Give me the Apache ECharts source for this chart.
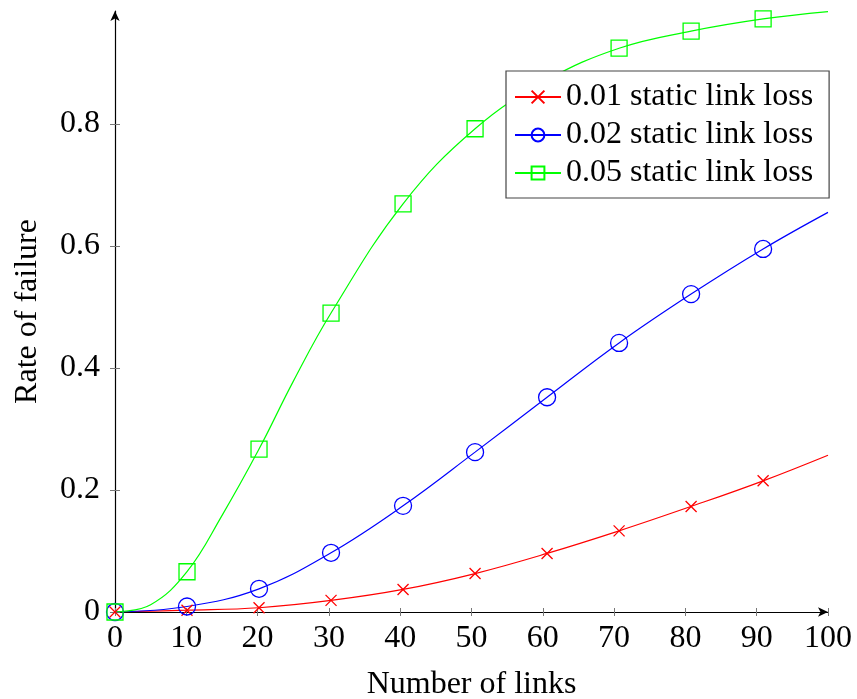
<!DOCTYPE html>
<html><head><meta charset="utf-8">
<script src="https://cdn.jsdelivr.net/npm/echarts@6/dist/echarts.min.js"></script>
<style>html,body{margin:0;padding:0;background:#fff}#c{width:857px;height:699px}</style>
</head><body><div id="c"></div>
<script>
// marker positions (every 10th of 100 samples) plus the curve end at 100
const xs = [0, 10.1, 20.2, 30.3, 40.4, 50.5, 60.6, 70.7, 80.8, 90.9, 100];
const loss001 = [0, 0.003, 0.007, 0.019, 0.037, 0.063, 0.096, 0.133, 0.173, 0.215, 0.257];
const loss002 = [0, 0.009, 0.038, 0.097, 0.174, 0.262, 0.352, 0.441, 0.521, 0.595, 0.655];
const loss005 = [0, 0.066, 0.267, 0.490, 0.669, 0.792, 0.872, 0.924, 0.952, 0.972, 0.984];
// extra curve readings (no marker) for the steep 0.05 curve
const xsExtra005 = [5, 15, 25];
const loss005Extra = [0.012, 0.158, 0.378];
const names = ['0.01 static link loss', '0.02 static link loss', '0.05 static link loss'];
const xTicks = [0,10,20,30,40,50,60,70,80,90,100];
const yTicks = [0,0.2,0.4,0.6,0.8];

const FONT = 'Liberation Serif';
const FS = 32;
const crossPath = 'path://M0,0L10,10M10,0L0,10';
function mk(vals, exX, exV) {
  const pts = xs.map((x, i) => {
    const d = {value: [x, vals[i]]};
    if (i === xs.length - 1) d.symbol = 'none';
    return d;
  });
  if (exX) exX.forEach((x, i) => pts.push({value: [x, exV[i]], symbol: 'none'}));
  pts.sort((a, b) => a.value[0] - b.value[0]);
  return pts;
}
function ser(name, data, color, symbol, size) {
  return {
    name, type: 'line', data, smooth: 0.4,
    symbol, symbolSize: size, showAllSymbol: true, clip: true,
    lineStyle: {color, width: 1.2},
    itemStyle: {color: 'rgba(0,0,0,0)', borderColor: color, borderWidth: 1.3},
    emphasis: {disabled: true}, z: 3
  };
}
const chart = echarts.init(document.getElementById('c'), null, {renderer: 'canvas'});
const axCommon = {type: 'value', min: 0, splitLine: {show: false}};
chart.setOption({
  animation: false,
  grid: {left: 115, right: 29, top: 11, bottom: 87, containLabel: false, outerBoundsMode: 'none'},
  legend: {
    left: 506, top: 71, orient: 'vertical',
    data: names,
    borderColor: '#444', borderWidth: 1.2, backgroundColor: '#fff',
    padding: [10, 16, 9, 8], itemGap: 6, itemWidth: 46, itemHeight: 16,
    textStyle: {fontFamily: FONT, fontSize: FS, lineHeight: 30, color: '#000'},
    selectedMode: false, z: 10
  },
  xAxis: [
    Object.assign({}, axCommon, {
      max: 100,
      name: 'Number of links', nameLocation: 'middle', nameGap: 57,
      nameTextStyle: {fontFamily: FONT, fontSize: FS, color: '#000'},
      axisLine: {show: true, onZero: false, lineStyle: {color: '#000', width: 1.2}, symbol: ['none', 'arrow'], symbolSize: [7, 10]},
      axisTick: {show: true, inside: false, length: 4, lineStyle: {color: '#777', width: 1}, customValues: xTicks},
      axisLabel: {show: true, margin: 11, fontFamily: FONT, fontSize: FS, color: '#000', customValues: xTicks}
    }),
    Object.assign({}, axCommon, {
      max: 100, position: 'bottom',
      axisLine: {show: false},
      axisTick: {show: true, inside: true, length: 4, lineStyle: {color: '#777', width: 1}, customValues: xTicks},
      axisLabel: {show: false}
    })
  ],
  yAxis: [
    Object.assign({}, axCommon, {
      max: 0.985,
      name: 'Rate of failure', nameLocation: 'middle', nameGap: 71, nameRotate: 90,
      nameTextStyle: {fontFamily: FONT, fontSize: FS, color: '#000'},
      axisLine: {show: true, onZero: false, lineStyle: {color: '#000', width: 1.2}, symbol: ['none', 'arrow'], symbolSize: [7, 10]},
      axisTick: {show: true, inside: false, length: 5, lineStyle: {color: '#777', width: 1}, customValues: yTicks},
      axisLabel: {show: true, margin: 15, fontFamily: FONT, fontSize: FS, color: '#000', customValues: yTicks}
    }),
    Object.assign({}, axCommon, {
      max: 0.985, position: 'left',
      axisLine: {show: false},
      axisTick: {show: true, inside: true, length: 5, lineStyle: {color: '#777', width: 1}, customValues: yTicks},
      axisLabel: {show: false}
    })
  ],
  series: [
    ser(names[0], mk(loss001), '#ff0000', crossPath, 11),
    ser(names[1], mk(loss002), '#0000ff', 'circle', 17),
    ser(names[2], mk(loss005, xsExtra005, loss005Extra), '#00ff00', 'rect', 16)
  ]
});
</script></body></html>
